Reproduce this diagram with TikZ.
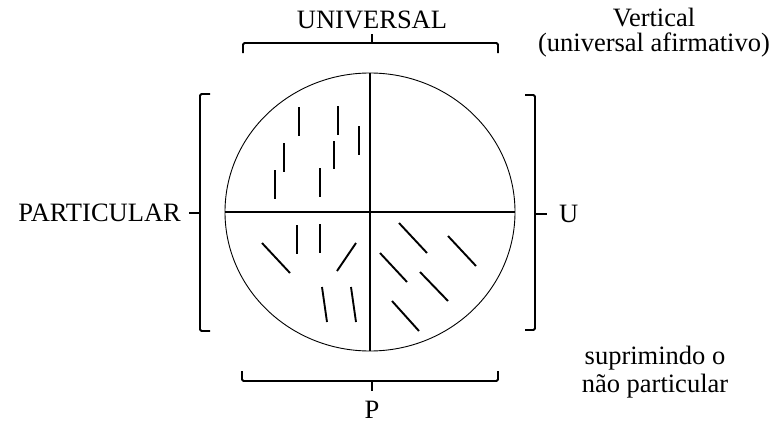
\documentclass[tikz,border=0pt]{standalone}
\usepackage{fontspec}
\setmainfont{Liberation Serif}
\usetikzlibrary{positioning,shapes.geometric}

\begin{document}
\begin{tikzpicture}[
  x=1pt, y=-1pt,
  font=\fontsize{26.5}{27}\selectfont,
  lbl/.style={inner sep=0pt},
  note/.style={inner sep=0pt, align=center},
  brk/.style={line width=1.9pt, rounded corners=1.5pt},
  axis/.style={line width=2pt},
  hatch/.style={line width=1.9pt}
]
\useasboundingbox (0,0) rectangle (777,423);

% circle and its two axes
\node[draw, line width=0.9pt, ellipse, minimum width=290pt, minimum height=278pt, inner sep=0pt] (circ) at (370,212) {};
\draw[axis] (circ.north) -- (circ.south);
\draw[axis] (circ.west) -- (circ.east);

% brackets round the circle
\coordinate (utick) at (372,34);
\coordinate (ptick) at (372,391);
\coordinate (ltick) at (189,213);
\coordinate (rtick) at (547,214);
\draw[brk] (243,53) -- (243,43) -- (498,43) -- (498,53);
\draw[brk] (372,43) -- (utick);
\draw[brk] (242,371) -- (242,381) -- (498,381) -- (498,371);
\draw[brk] (372,381) -- (ptick);
\draw[brk] (210,94) -- (200,94) -- (200,331) -- (210,331);
\draw[brk] (200,213) -- (ltick);
\draw[brk] (525,95) -- (535,95) -- (535,330) -- (525,330);
\draw[brk] (535,214) -- (rtick);

\node[lbl, above=5pt of utick] (universal) {UNIVERSAL};
\node[lbl, below=10pt of ptick] (pnode) {P};
\node[lbl, left=8pt of ltick] (particular) {PARTICULAR};
\node[lbl, right=12pt of rtick] (unode) {U};

\node[note, font=\fontsize{26.5}{25}\selectfont] (vertical) at (654,33) {Vertical\\(universal afirmativo)};
\node[note, font=\fontsize{26.5}{28.5}\selectfont] (suprime) at (655,372) {suprimindo o\\n\~ao particular};

% strokes in the quadrants
\foreach \xa/\ya/\xb/\yb in {299/107/299/136, 338/106/338/135, 359/126/359/155,
    284/143/284/172, 334/141/334/169, 275/170/275/199, 320/168/320/197,
    297/225/297/254, 320/224/320/253, 262/243/290/273, 356/243/337/271,
    322/287/327/322, 351/287/356/322,
    399/223/427/253, 448/236/476/266, 380/253/407/282, 420/272/448/301,
    392/301/419/331}
  \draw[hatch] (\xa,\ya) -- (\xb,\yb);

\end{tikzpicture}
\end{document}
